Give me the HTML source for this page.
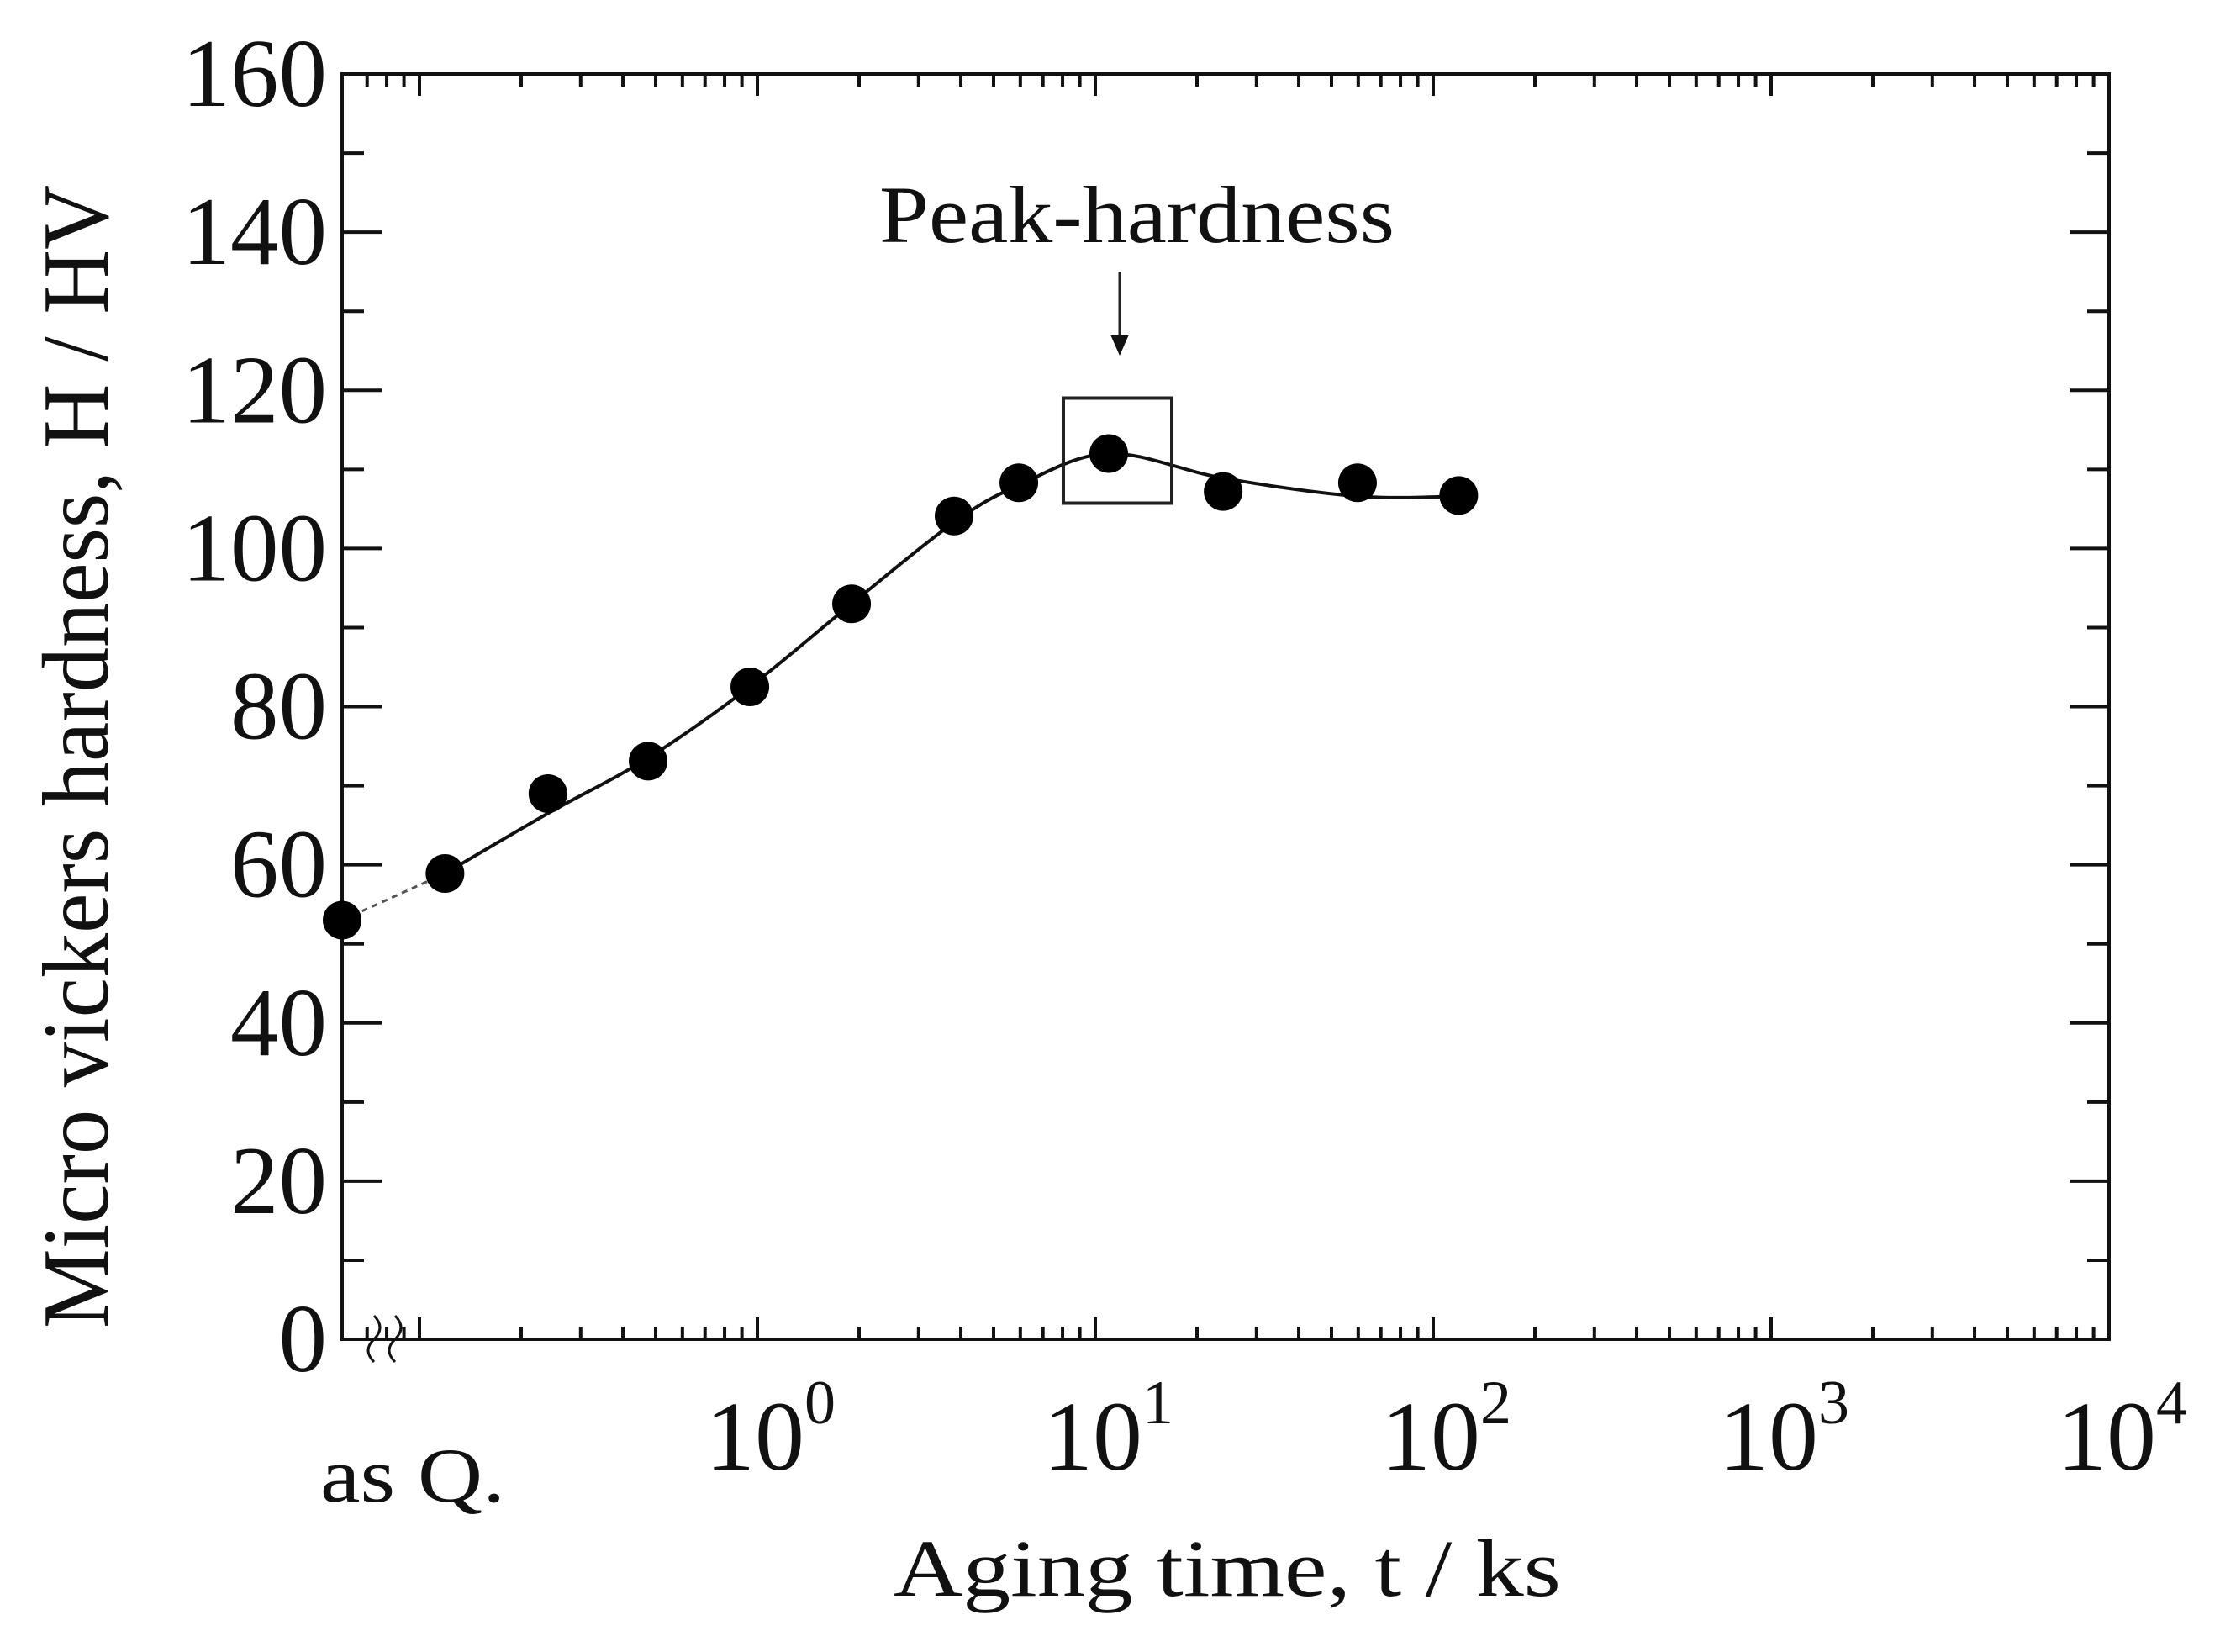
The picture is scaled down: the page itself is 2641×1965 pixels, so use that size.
<!DOCTYPE html>
<html><head><meta charset="utf-8"><style>
html,body{margin:0;padding:0;background:#fff;}
svg{display:block;}
text{font-family:"Liberation Serif","Times New Roman",serif;fill:#111;}
</style></head><body>
<svg id="chart" width="2641" height="1965" viewBox="0 0 2641 1965" xmlns="http://www.w3.org/2000/svg" font-family="Liberation Serif, serif">
<g id="axes"></g>
<g id="series"></g>
<text transform="translate(128,900) rotate(-90)" text-anchor="middle" font-size="112" textLength="1360" lengthAdjust="spacingAndGlyphs">Micro vickers hardness, H / HV</text>
<text x="1063" y="1898" font-size="96" textLength="794" lengthAdjust="spacingAndGlyphs">Aging time, t / ks</text>
<text x="381" y="1786" font-size="92" textLength="220" lengthAdjust="spacingAndGlyphs">as Q.</text>
<text x="1046" y="288" font-size="96" textLength="613" lengthAdjust="spacingAndGlyphs">Peak-hardness</text>
</svg>
<script>
const yTicks = [0,20,40,60,80,100,120,140,160];
const xDecades = [-1,0,1,2,3,4];
const xLabels = ["0","1","2","3","4"];
const asQHardness = 53.0;
const agingTimes = [0.119,0.24,0.475,0.95,1.9,3.82,5.94,10.96,23.9,59.7,119];
const hardness = [58.9,69,73.1,82.5,93,104.1,108.3,112,107.2,108.3,106.7];
const fitTimes = [0.119,0.24,0.475,0.95,1.9,3.82,5.94,10.96,23.9,59.7,119];
const fitHardness = [58.9,66.5,73.5,82.5,93,103.3,108,112,108.9,106.6,106.6];

const L=407,R=2509,T=88,B=1593;
const dec0=901, decW=402;
const xs = t => dec0 + Math.log10(t)*decW;
const ys = h => B - (h/160)*(B-T);
const NS="http://www.w3.org/2000/svg";
function mk(tag, parent, attrs){const e=document.createElementNS(NS,tag);for(const k in attrs)e.setAttribute(k,attrs[k]);parent.appendChild(e);return e;}
const ax=document.getElementById('axes'), se=document.getElementById('series');

const frame=mk('rect',ax,{x:L,y:T,width:R-L,height:B-T,fill:'none',stroke:'#111','stroke-width':4});



for(let v=0; v<=160; v+=10){
  const y=ys(v), len=(v%20===0)?47:26;
  const t1=mk('line',ax,{x1:L,y1:y,x2:L+len,y2:y,stroke:'#111','stroke-width':4});
  
  
  const t2=mk('line',ax,{x1:R,y1:y,x2:R-len,y2:y,stroke:'#111','stroke-width':4});
  
  
}
yTicks.forEach(v=>{
  const tx=mk('text',ax,{x:389,y:ys(v)+38,'text-anchor':'end','font-size':115});
  
  
  tx.textContent=String(v);
});
function xt(x,len){
  const a=mk('line',ax,{x1:x,y1:B,x2:x,y2:B-len,stroke:'#111','stroke-width':4});
  
  
  const b=mk('line',ax,{x1:x,y1:T,x2:x,y2:T+len,stroke:'#111','stroke-width':4});
  
  
}
xDecades.forEach(d=>{
  for(let m=1;m<10;m++){
    if(d===4 && m>1) break;
    const x=xs(Math.pow(10,d)*m); if(x<=L+5||x>R+1) continue;
    xt(x,(m===1)?26:15);
  }
  if(d===-1) [0.07,0.08,0.09].forEach(t=>xt(xs(t),15));
});
xLabels.forEach(s=>{
  const d=+s, x=xs(Math.pow(10,d));
  const tx=mk('text',ax,{x:x-62,y:1748,'font-size':118});
  
  
  tx.textContent='10';
  const sp=mk('tspan',tx,{dy:-55,'font-size':74});
  sp.textContent=s;
});
const brk=mk('path',ax,{d:'M445,1620 q-14,-14 0,-27 q14,-14 0,-28 M470,1620 q-14,-14 0,-27 q14,-14 0,-28',fill:'none',stroke:'#111','stroke-width':3});



const pts=fitTimes.map((t,i)=>[xs(t),ys(fitHardness[i])]);
let d='M'+pts[0][0]+','+pts[0][1];
for(let i=0;i<pts.length-1;i++){
  const p0=pts[Math.max(0,i-1)],p1=pts[i],p2=pts[i+1],p3=pts[Math.min(pts.length-1,i+2)];
  const c1=[p1[0]+(p2[0]-p0[0])/6,p1[1]+(p2[1]-p0[1])/6];
  const c2=[p2[0]-(p3[0]-p1[0])/6,p2[1]-(p3[1]-p1[1])/6];
  d+=` C${c1[0]},${c1[1]} ${c2[0]},${c2[1]} ${p2[0]},${p2[1]}`;
}
const curve=mk('path',se,{d:d,fill:'none',stroke:'#111','stroke-width':4});


const dash=mk('line',se,{x1:L,y1:ys(asQHardness),x2:xs(agingTimes[0]),y2:ys(hardness[0]),stroke:'#555','stroke-width':3,'stroke-dasharray':'7,6'});


const c0=mk('circle',se,{cx:L,cy:ys(asQHardness),r:23,fill:'#000'});


agingTimes.forEach((t,i)=>{
  const c=mk('circle',se,{cx:xs(t),cy:ys(hardness[i]),r:23,fill:'#000'});
  
  
});
const pk=hardness.indexOf(Math.max(...hardness));
const px=xs(agingTimes[pk]), py=ys(hardness[pk]);
const box=mk('rect',se,{x:px-54,y:py-66,width:129,height:125,fill:'none',stroke:'#222','stroke-width':4});


const arr=mk('line',se,{x1:px+13,y1:323,x2:px+13,y2:405,stroke:'#222','stroke-width':3});


const head=mk('path',se,{d:`M${px+2},398 L${px+24},398 L${px+13},423 Z`,fill:'#111'});


</script>
</body></html>
